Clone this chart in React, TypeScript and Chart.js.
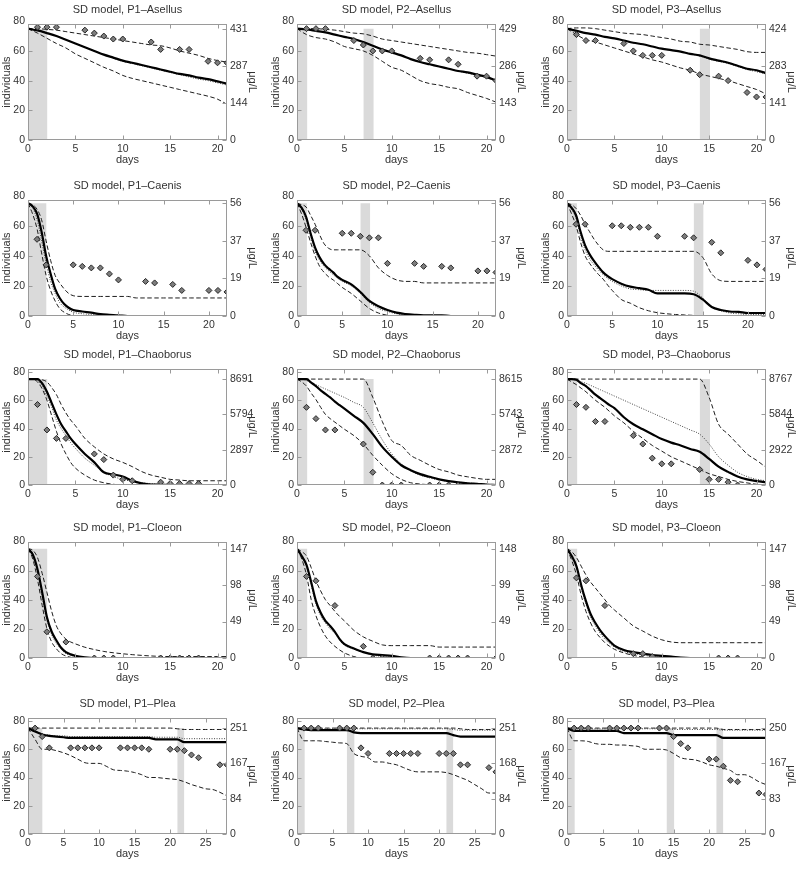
import { useEffect, useRef } from 'react';
import { Chart, registerables } from 'chart.js';

Chart.register(...registerables);

// ---------------- time grids (days) ----------------
const DAYS_21 = [0, 1, 2, 3, 4, 5, 6, 7, 8, 9, 10, 11, 12, 13, 14, 15, 16, 17, 18, 19, 20, 21];
const DAYS_FINE_21 = [0, 0.5, 1, 1.5, 2, 2.5, 3, 3.5, 4, 4.5, 5, 6, 7, 8, 9, 10, 11, 12, 13, 14, 15, 16, 17, 18, 19, 20, 21];
const DAYS_FINE_22 = [0, 0.5, 1, 1.5, 2, 2.5, 3, 3.5, 4, 4.5, 5, 6, 7, 8, 9, 10, 11, 12, 13, 14, 15, 16, 17, 18, 19, 20, 21, 22];
const DAYS_28 = [0, 1, 2, 3, 4, 5, 6, 7, 8, 9, 10, 11, 12, 13, 14, 15, 16, 17, 18, 19, 20, 21, 22, 23, 24, 25, 26, 27, 28];

// observation days
const OBS_DAYS_ASELLUS = [1, 2, 3, 6, 7, 8, 9, 10, 13, 14, 16, 17, 19, 20, 21];
const OBS_DAYS_CAENIS = [1, 2, 5, 6, 7, 8, 9, 10, 13, 14, 16, 17, 20, 21, 22];
const OBS_DAYS_PLEA = [1, 2, 3, 6, 7, 8, 9, 10, 13, 14, 15, 16, 17, 20, 21, 22, 23, 24, 27, 28];

// exposure pulses [start, end] (days)
const PULSES_P1 = [[0, 2.05]];
const PULSES_P2 = [[0, 1.1], [7, 8.1]];
const PULSES_P3 = [[0, 1.1], [14, 15.1]];
const PULSES_SINGLE = [[0, 1.1]];
const PULSES_P1_PLEA = [[0, 2.05], [21, 22]];
const PULSES_P2_PLEA = [[0, 1.1], [7, 8.1], [21, 22]];
const PULSES_P3_PLEA = [[0, 1.1], [14, 15.1], [21, 22]];
const PULSE_LEVEL = 75; // peak concentration drawn at this height

// tick values
const X_TICKS = [0, 5, 10, 15, 20, 25];
const Y_TICKS = [0, 20, 40, 60, 80];
const CONC_TICK_POS = [0, 25, 50, 75];

// ---------------- Asellus ----------------
const ASELLUS_P1_MEDIAN = [75, 73.8, 72, 70, 67.5, 65, 62.5, 60, 57.5, 55.5, 53.5, 52, 50.5, 49, 47.5, 46, 44.5, 43.5, 42, 41, 39.5, 38];
const ASELLUS_P1_DOTTED = [75, 73.8, 72, 70, 67.5, 65, 62.5, 60, 57.5, 55, 53, 51.5, 50, 48.5, 47, 45.5, 44, 42.5, 41, 40, 38.5, 37];
const ASELLUS_P1_UPPER = [75, 75, 74.5, 74, 73, 72, 71, 70, 69, 68, 67, 66, 65, 64, 63.5, 62, 60, 58.5, 57, 55, 53.5, 52.5];
const ASELLUS_P1_LOWER = [75, 72, 68.5, 65, 62, 58, 55, 52, 49, 46.5, 43.5, 41.5, 40, 38.5, 37, 35.5, 34, 32.5, 31, 29.5, 27.5, 24];
const ASELLUS_P1_OBS = [76, 76, 76, 74, 72, 70, 68, 68, 66, 61, 61, 61, 53, 52, 52];
const ASELLUS_P1_CONC = ['0', '144', '287', '431'];

const ASELLUS_P2_MEDIAN = [75, 74.5, 73.5, 72.5, 71, 69.5, 68, 66, 63.5, 61, 59, 57, 54.5, 52.5, 51, 49.5, 48, 46.5, 45.5, 44, 42.5, 40];
const ASELLUS_P2_DOTTED = [75, 74.5, 73.5, 72.5, 71, 69.5, 68, 66, 63.5, 61, 59, 57, 54.5, 52.5, 51, 49.5, 48, 46.5, 45, 43.5, 42, 40];
const ASELLUS_P2_UPPER = [75, 75, 75, 74.5, 74, 73, 72, 71.5, 70, 68, 67, 66, 65, 64, 63, 62, 61, 60, 59, 58.5, 57.5, 56.5];
const ASELLUS_P2_LOWER = [75, 71, 69, 68, 66, 63, 61.5, 60, 57, 53, 49, 47, 43.5, 40, 38, 37, 35.5, 34.5, 32, 30, 28, 25.5];
const ASELLUS_P2_OBS = [75, 75, 75, 67, 64, 60, 60, 60, 55, 54, 54, 51, 43, 43, 40];
const ASELLUS_P2_CONC = ['0', '143', '286', '429'];

const ASELLUS_P3_MEDIAN = [75, 73.5, 72, 71, 69.5, 68.5, 67, 65.5, 64.5, 63, 61.5, 60.5, 59.5, 58, 57, 55, 53.5, 52, 50, 48, 47, 45];
const ASELLUS_P3_DOTTED = [75, 73.5, 72, 71, 69.5, 68.5, 67, 65.5, 64.5, 63, 61.5, 60.5, 59.5, 58, 56.5, 54.5, 53, 51.5, 49.5, 47.5, 46, 44.5];
const ASELLUS_P3_UPPER = [75, 75.5, 75.5, 75, 74, 73, 72, 71.5, 71, 70, 69, 68, 66.5, 66, 64.5, 64, 63, 62, 61, 59.5, 59, 59];
const ASELLUS_P3_LOWER = [75, 71, 67.5, 66, 64, 62, 60, 58, 56, 54, 52.5, 50.5, 48.5, 47, 44.5, 43, 41.5, 40, 38, 36, 34, 31];
const ASELLUS_P3_OBS = [71, 67, 67, 65, 60, 57, 57, 57, 47, 44, 43, 40, 32, 29, 29];
const ASELLUS_P3_CONC = ['0', '141', '283', '424'];

// ---------------- Caenis ----------------
const CAENIS_P1_MEDIAN = [75, 73, 68, 56, 40, 28, 18, 12, 8, 5.5, 4, 3, 2.2, 1.2, 0.8, 0.5, 0, 0, 0, 0, 0, 0, 0, 0, 0, 0, 0, 0];
const CAENIS_P1_DOTTED = [75, 72, 64, 50, 35, 23, 15, 9, 6, 4, 2.5, 1.5, 1, 0.5, 0.2, 0, 0, 0, 0, 0, 0, 0, 0, 0, 0, 0, 0, 0];
const CAENIS_P1_UPPER = [75, 74, 71, 64, 50, 37, 27, 22, 18, 15, 13.5, 13, 13, 13, 13, 13, 13, 12, 12, 12, 12, 12, 12, 12, 12, 12, 12, 12];
const CAENIS_P1_LOWER = [75, 68, 58, 42, 27, 17, 10, 5, 2.5, 1, 0.3, 0, 0, 0, 0, 0, 0, 0, 0, 0, 0, 0, 0, 0, 0, 0, 0, 0];
const CAENIS_P1_OBS = [51, 34, 34, 33, 32, 32, 28, 24, 23, 22, 21, 17, 17, 17, 16];

const CAENIS_P2_MEDIAN = [75, 72, 66, 55, 45.5, 39, 34.5, 31.5, 29, 26, 24, 21, 16, 10, 6.5, 4, 2.2, 1.3, 0.8, 0.5, 0.5, 0.5, 0, 0, 0, 0, 0, 0];
const CAENIS_P2_DOTTED = [75, 71, 64, 53, 43, 37, 33, 30, 27.5, 25, 23, 20, 15, 9, 5, 3, 1.5, 1, 0.5, 0, 0, 0, 0, 0, 0, 0, 0, 0];
const CAENIS_P2_UPPER = [75, 74, 72.5, 67, 61, 54, 48, 45, 44, 44, 44, 44, 44, 40, 32, 27, 24, 23, 23, 22, 22, 22, 22, 22, 22, 22, 22, 22];
const CAENIS_P2_LOWER = [75, 68, 59, 49, 40, 33, 29, 26, 24, 21.5, 19, 15, 10, 5, 2, 0.5, 0, 0, 0, 0, 0, 0, 0, 0, 0, 0, 0, 0];
const CAENIS_P2_OBS = [57, 57, 55, 55, 53, 52, 52, 35, 35, 33, 33, 32, 30, 30, 29];

const CAENIS_P3_MEDIAN = [75, 72, 67, 56, 47, 41, 36.5, 32.5, 29, 26.5, 24.5, 21.5, 19.5, 18.5, 17.5, 15, 15, 15, 15, 14.5, 11, 6, 4, 3, 2.7, 2, 2, 2];
const CAENIS_P3_DOTTED = [75, 71, 65, 53, 44, 38, 34, 30.5, 27.5, 25, 23, 20, 18, 17.5, 17, 17, 17, 17, 17, 16.5, 12, 6, 3.5, 2, 1.5, 1, 1, 1];
const CAENIS_P3_UPPER = [75, 74, 71.5, 67, 61, 56, 51, 47, 44, 43, 43, 43, 43, 43, 43, 43, 43, 43, 43, 43, 39, 28, 23.5, 23, 23, 23, 23, 23];
const CAENIS_P3_LOWER = [75, 68, 60, 49, 40, 35, 31, 27.5, 24.5, 20.5, 17, 11, 8.5, 5.5, 3.5, 2.2, 1.5, 1, 0.7, 0.4, 0, 0, 0, 0, 0, 0, 0, 0];
const CAENIS_P3_OBS = [61, 61, 60, 60, 59, 59, 59, 53, 53, 52, 49, 42, 37, 34, 31];
const CAENIS_CONC = ['0', '19', '37', '56'];

// ---------------- Chaoborus ----------------
const CHAO_P1_MEDIAN = [75, 75, 75, 72, 66, 58, 50, 43, 38, 33, 29, 22, 16, 9, 7.5, 6, 3, 1.2, 0.3, 0.2, 0, 0, 0, 0, 0, 0, 0];
const CHAO_P1_DOTTED = [75, 75, 74, 70, 63, 55, 46, 40, 35, 30, 26, 19, 14, 9, 6, 4, 2.5, 1.5, 1, 0.5, 0.2, 0, 0, 0, 0, 0, 0];
const CHAO_P1_UPPER = [75, 75, 75, 74.5, 73, 69, 64, 57, 51, 46, 42, 33, 27, 22, 18.5, 16, 13, 9.5, 7, 5.5, 4, 3.5, 3, 3, 3, 3, 3];
const CHAO_P1_LOWER = [75, 75, 73, 68, 60, 49, 38, 29, 22, 16, 12, 7, 3.5, 1.6, 0.5, 0, 0, 0, 0, 0, 0, 0, 0, 0, 0, 0, 0];
const CHAO_P1_OBS_DAYS = [1, 2, 3, 4, 7, 8, 9, 10, 11, 14, 15, 16, 17, 18];
const CHAO_P1_OBS = [57, 39, 33, 33, 22, 18, 7, 4, 3, 2, 1, 1, 1, 1];
const CHAO_P1_CONC = ['0', '2897', '5794', '8691'];

const CHAO_P2_MEDIAN = [75, 75, 75, 72.5, 70, 67, 64.5, 62, 59, 56.5, 54, 49, 44, 36, 27, 20, 14, 10.5, 7.7, 5.8, 4, 2.8, 1.9, 1.2, 0.8, 0.3, 0];
const CHAO_P2_DOTTED = [75, 75, 74, 72.5, 71, 69.5, 68, 66.5, 65, 63.5, 62, 58.5, 55, 44, 32, 22, 15, 10, 7, 5, 3.5, 2.5, 2, 1.5, 1, 0.5, 0.3];
const CHAO_P2_UPPER = [75, 75, 75, 75, 75, 75, 75, 75, 75, 75, 75, 75, 75, 62, 45, 31.5, 28, 21, 17.5, 14, 11, 9.3, 7, 5.8, 4.7, 4, 4];
const CHAO_P2_LOWER = [75, 73, 70, 65, 60.5, 55, 50, 47, 44.5, 42, 39.5, 35, 29, 21, 14, 8, 4, 1.6, 0.7, 0.2, 0, 0, 0, 0, 0, 0, 0];
const CHAO_P2_OBS_DAYS = [1, 2, 3, 4, 7, 8, 9, 10, 11, 14, 15, 16, 17];
const CHAO_P2_OBS = [55, 47, 39, 39, 29, 9, 0, 0, 0, 0, 0, 0, 0];
const CHAO_P2_CONC = ['0', '2872', '5743', '8615'];

const CHAO_P3_MEDIAN = [75, 75, 74.5, 72, 70, 67, 64, 61.5, 59, 56.5, 54.5, 48, 43, 39.5, 36, 32.5, 30, 28, 25.5, 23.5, 18.5, 13, 9.3, 6, 4, 2.8, 2];
const CHAO_P3_DOTTED = [75, 75, 74, 73, 72, 70.5, 69, 67.5, 66, 64.5, 63, 60, 57, 54, 51, 48, 45, 42, 39, 36, 29, 20, 14, 9, 6, 4, 3];
const CHAO_P3_UPPER = [75, 75, 75, 75, 75, 75, 75, 75, 75, 75, 75, 75, 75, 75, 75, 75, 75, 75, 75, 75, 62, 43, 36, 29, 22, 17.5, 12.5];
const CHAO_P3_LOWER = [75, 73, 71, 68.5, 66, 63, 60, 57.5, 55, 52, 49, 44, 38, 33, 28, 24, 20, 17, 14, 11, 8, 6, 4, 2.5, 1.5, 0.5, 0];
const CHAO_P3_OBS_DAYS = [1, 2, 3, 4, 7, 8, 9, 10, 11, 14, 15, 16, 17, 18];
const CHAO_P3_OBS = [57, 55, 45, 45, 35, 29, 19, 15, 15, 11, 4, 4, 2, 0];
const CHAO_P3_CONC = ['0', '2922', '5844', '8767'];

// ---------------- Cloeon ----------------
const CLOEON_P1_MEDIAN = [75, 71, 61, 45, 28, 18, 12, 7, 4, 2.5, 1.5, 0.5, 0, 0, 0, 0, 0, 0, 0, 0, 0, 0, 0, 0, 0, 0, 0];
const CLOEON_P1_DOTTED = [75, 70, 59, 42, 26, 16, 10, 6, 3, 2, 1, 0.3, 0, 0, 0, 0, 0, 0, 0, 0, 0, 0, 0, 0, 0, 0, 0];
const CLOEON_P1_UPPER = [75, 74, 69, 58, 45, 32, 22, 16.5, 13, 11, 9.7, 7.4, 5.8, 4.5, 3.6, 2.9, 2.3, 1.8, 1.4, 1.1, 1, 1, 1, 1, 1, 1, 1];
const CLOEON_P1_LOWER = [75, 68, 54, 36, 20, 11, 6.3, 3, 1.4, 0.5, 0, 0, 0, 0, 0, 0, 0, 0, 0, 0, 0, 0, 0, 0, 0, 0, 0];
const CLOEON_P1_OBS_DAYS = [1, 2, 4, 7, 8, 9, 14, 15, 16, 17, 18, 21];
const CLOEON_P1_OBS = [56, 18, 11, 0, 0, 0, 0, 0, 0, 0, 0, 0];
const CLOEON_P1_CONC = ['0', '49', '98', '147'];

const CLOEON_P2_MEDIAN = [75, 70, 64, 52, 39, 31, 25.5, 22, 18, 13, 9.5, 6.5, 4, 2.5, 2, 1.5, 0.5, 0, 0, 0, 0, 0, 0, 0, 0, 0, 0];
const CLOEON_P2_DOTTED = [75, 69, 63, 50, 37, 29, 24, 20, 17, 12.5, 9, 6, 4, 2, 1, 0.5, 0, 0, 0, 0, 0, 0, 0, 0, 0, 0, 0];
const CLOEON_P2_UPPER = [75, 73, 70, 62, 53, 46, 40, 36, 32, 28.5, 25.5, 19, 14.5, 11.5, 9, 8.5, 8.5, 8.5, 8.5, 8.5, 7.5, 7.5, 7.5, 7.5, 7.5, 7.5, 7.5];
const CLOEON_P2_LOWER = [75, 68, 57, 40, 29, 21, 15, 11, 8, 5.5, 3.5, 1, 0, 0, 0, 0, 0, 0, 0, 0, 0, 0, 0, 0, 0, 0, 0];
const CLOEON_P2_OBS_DAYS = [1, 2, 4, 7, 8, 9, 14, 15, 16, 17, 18, 21];
const CLOEON_P2_OBS = [56, 53, 36, 8, 0, 0, 0, 0, 0, 0, 0, 0];
const CLOEON_P2_CONC = ['0', '49', '99', '148'];

const CLOEON_P3_MEDIAN = [75, 70, 63, 50, 39, 30, 24, 19, 15, 11.5, 8.5, 5.5, 4, 3, 2, 1.5, 1, 0.3, 0, 0, 0, 0, 0, 0, 0, 0, 0];
const CLOEON_P3_DOTTED = [75, 69, 62, 48, 37, 28, 22, 17, 13, 10, 7.5, 4.5, 3, 2, 1, 0.5, 0, 0, 0, 0, 0, 0, 0, 0, 0, 0, 0];
const CLOEON_P3_UPPER = [75, 73, 69, 63, 57, 52, 48, 44, 40, 36, 33, 27.5, 22, 18.5, 15, 12.5, 11, 10.5, 10.5, 10.5, 10.5, 10.5, 10.5, 10.5, 10.5, 10.5, 10.5];
const CLOEON_P3_LOWER = [75, 67, 57, 43, 32, 24, 18, 14, 10.5, 8, 6, 3.5, 1.8, 0.7, 0, 0, 0, 0, 0, 0, 0, 0, 0, 0, 0, 0, 0];
const CLOEON_P3_OBS_DAYS = [1, 2, 4, 7, 8, 9, 16, 17, 18];
const CLOEON_P3_OBS = [55, 53, 36, 3, 3, 1, 0, 0, 0];
const CLOEON_P3_CONC = ['0', '49', '98', '147'];

// ---------------- Plea ----------------
const PLEA_P1_MEDIAN = [75, 72.5, 70.5, 69.5, 69, 68.5, 68, 68, 68, 68, 68, 68, 68, 68, 68, 68, 68, 68, 67, 67, 67, 67, 65, 65, 65, 65, 65, 65, 65];
const PLEA_P1_DOTTED = [75, 73, 71, 70, 69.5, 69.5, 69, 69, 69, 69, 69, 69, 69, 69, 69, 69, 69, 69, 68.5, 68.5, 68.5, 68.5, 67.5, 67.5, 67.5, 67.5, 67.5, 67.5, 67.5];
const PLEA_P1_UPPER = [75, 75, 75, 75, 75, 75, 75, 75, 75, 75, 75, 75, 75, 75, 75, 75, 75, 75, 75, 75, 75, 74.5, 74, 74, 74, 74, 74, 74, 74];
const PLEA_P1_LOWER = [75, 67, 60, 60, 59, 57.5, 55.5, 53, 50.5, 50, 50, 48, 45.5, 45, 44.5, 43.5, 42, 40, 40, 39.5, 39, 38.5, 37, 35, 33.5, 32, 31.5, 29.5, 27];
const PLEA_P1_OBS = [75, 69, 61, 61, 61, 61, 61, 61, 61, 61, 61, 61, 60, 60, 60, 59, 56, 54, 49, 49];
const PLEA_P1_CONC = ['0', '84', '167', '251'];

const PLEA_P2_MEDIAN = [75, 74, 73.5, 73.5, 73.5, 73.5, 73.5, 73.5, 72, 71.5, 71.5, 71.5, 71.5, 71.5, 71.5, 71.5, 71.5, 71.5, 71.5, 71.5, 71.5, 71.5, 70, 69, 69, 69, 69, 69, 69];
const PLEA_P2_DOTTED = [75, 74.5, 74.5, 74.5, 74.5, 74.5, 74.5, 74.5, 74.5, 74.5, 74.5, 74.5, 74.5, 74.5, 74.5, 74.5, 74.5, 74.5, 74.5, 74.5, 74.5, 74.5, 74, 73.5, 73.5, 73.5, 73.5, 73.5, 73.5];
const PLEA_P2_UPPER = [75, 75, 75, 75, 75, 75, 75, 75, 75, 75, 75, 75, 75, 75, 75, 75, 75, 75, 75, 75, 75, 75, 75, 74.5, 74, 74, 74, 74, 74];
const PLEA_P2_LOWER = [75, 66, 66, 66, 65.5, 65, 64.5, 64, 57, 55, 54, 51, 51, 50, 49, 47, 45, 44, 44, 44, 44, 43.5, 42, 40, 38, 35, 32, 29, 29];
const PLEA_P2_OBS = [75, 75, 75, 75, 75, 75, 61, 57, 57, 57, 57, 57, 57, 57, 57, 57, 49, 49, 47, 44];
const PLEA_P2_CONC = ['0', '84', '168', '251'];

const PLEA_P3_MEDIAN = [75, 73, 73, 73, 73, 73, 73, 73, 71.5, 71.5, 71.5, 71.5, 71.5, 71.5, 71.5, 70, 70, 70, 70, 70, 70, 70, 68, 68, 68, 68, 68, 68, 68];
const PLEA_P3_DOTTED = [75, 74.5, 74.5, 74.5, 74.5, 74.5, 74.5, 74.5, 74.5, 74.5, 74.5, 74.5, 74.5, 74.5, 74.5, 74, 74, 74, 74, 74, 74, 74, 73.5, 73.5, 73.5, 73.5, 73.5, 73.5, 73.5];
const PLEA_P3_UPPER = [75, 75, 75, 75, 75, 75, 75, 75, 75, 75, 75, 75, 75, 75, 75, 75, 75, 75, 75, 75, 75, 75, 74, 74, 74, 74, 74, 74, 74];
const PLEA_P3_LOWER = [75, 66, 66, 65.5, 64, 63.5, 63.5, 63, 63, 62.5, 62, 60, 60, 60, 59.5, 57, 54, 53, 52.5, 51, 49, 48, 46.5, 45, 42, 42, 40, 37, 35];
const PLEA_P3_OBS = [75, 75, 75, 75, 75, 75, 75, 75, 75, 75, 69, 64, 61, 53, 53, 48, 38, 37, 29, 28];
const PLEA_P3_CONC = ['0', '83', '167', '250'];

// ---------------- panel table ----------------
type Panel = {
  title: string;
  xMax: number;
  yMax: number;
  t: number[];
  median: number[];
  dotted: number[];
  upper: number[];
  lower: number[];
  obsDays: number[];
  obs: number[];
  pulses: number[][];
  conc: string[];
};

const PANELS: Panel[] = [
  { title: 'SD model, P1–Asellus', xMax: 21, yMax: 78, t: DAYS_21, median: ASELLUS_P1_MEDIAN, dotted: ASELLUS_P1_DOTTED, upper: ASELLUS_P1_UPPER, lower: ASELLUS_P1_LOWER, obsDays: OBS_DAYS_ASELLUS, obs: ASELLUS_P1_OBS, pulses: PULSES_P1, conc: ASELLUS_P1_CONC },
  { title: 'SD model, P2–Asellus', xMax: 21, yMax: 78, t: DAYS_21, median: ASELLUS_P2_MEDIAN, dotted: ASELLUS_P2_DOTTED, upper: ASELLUS_P2_UPPER, lower: ASELLUS_P2_LOWER, obsDays: OBS_DAYS_ASELLUS, obs: ASELLUS_P2_OBS, pulses: PULSES_P2, conc: ASELLUS_P2_CONC },
  { title: 'SD model, P3–Asellus', xMax: 21, yMax: 78, t: DAYS_21, median: ASELLUS_P3_MEDIAN, dotted: ASELLUS_P3_DOTTED, upper: ASELLUS_P3_UPPER, lower: ASELLUS_P3_LOWER, obsDays: OBS_DAYS_ASELLUS, obs: ASELLUS_P3_OBS, pulses: PULSES_P3, conc: ASELLUS_P3_CONC },
  { title: 'SD model, P1–Caenis', xMax: 22, yMax: 77, t: DAYS_FINE_22, median: CAENIS_P1_MEDIAN, dotted: CAENIS_P1_DOTTED, upper: CAENIS_P1_UPPER, lower: CAENIS_P1_LOWER, obsDays: OBS_DAYS_CAENIS, obs: CAENIS_P1_OBS, pulses: PULSES_P1, conc: CAENIS_CONC },
  { title: 'SD model, P2–Caenis', xMax: 22, yMax: 77, t: DAYS_FINE_22, median: CAENIS_P2_MEDIAN, dotted: CAENIS_P2_DOTTED, upper: CAENIS_P2_UPPER, lower: CAENIS_P2_LOWER, obsDays: OBS_DAYS_CAENIS, obs: CAENIS_P2_OBS, pulses: PULSES_P2, conc: CAENIS_CONC },
  { title: 'SD model, P3–Caenis', xMax: 22, yMax: 77, t: DAYS_FINE_22, median: CAENIS_P3_MEDIAN, dotted: CAENIS_P3_DOTTED, upper: CAENIS_P3_UPPER, lower: CAENIS_P3_LOWER, obsDays: OBS_DAYS_CAENIS, obs: CAENIS_P3_OBS, pulses: PULSES_P3, conc: CAENIS_CONC },
  { title: 'SD model, P1–Chaoborus', xMax: 21, yMax: 82, t: DAYS_FINE_21, median: CHAO_P1_MEDIAN, dotted: CHAO_P1_DOTTED, upper: CHAO_P1_UPPER, lower: CHAO_P1_LOWER, obsDays: CHAO_P1_OBS_DAYS, obs: CHAO_P1_OBS, pulses: PULSES_P1, conc: CHAO_P1_CONC },
  { title: 'SD model, P2–Chaoborus', xMax: 21, yMax: 82, t: DAYS_FINE_21, median: CHAO_P2_MEDIAN, dotted: CHAO_P2_DOTTED, upper: CHAO_P2_UPPER, lower: CHAO_P2_LOWER, obsDays: CHAO_P2_OBS_DAYS, obs: CHAO_P2_OBS, pulses: PULSES_P2, conc: CHAO_P2_CONC },
  { title: 'SD model, P3–Chaoborus', xMax: 21, yMax: 82, t: DAYS_FINE_21, median: CHAO_P3_MEDIAN, dotted: CHAO_P3_DOTTED, upper: CHAO_P3_UPPER, lower: CHAO_P3_LOWER, obsDays: CHAO_P3_OBS_DAYS, obs: CHAO_P3_OBS, pulses: PULSES_P3, conc: CHAO_P3_CONC },
  { title: 'SD model, P1–Cloeon', xMax: 21, yMax: 79.5, t: DAYS_FINE_21, median: CLOEON_P1_MEDIAN, dotted: CLOEON_P1_DOTTED, upper: CLOEON_P1_UPPER, lower: CLOEON_P1_LOWER, obsDays: CLOEON_P1_OBS_DAYS, obs: CLOEON_P1_OBS, pulses: PULSES_P1, conc: CLOEON_P1_CONC },
  { title: 'SD model, P2–Cloeon', xMax: 21, yMax: 79.5, t: DAYS_FINE_21, median: CLOEON_P2_MEDIAN, dotted: CLOEON_P2_DOTTED, upper: CLOEON_P2_UPPER, lower: CLOEON_P2_LOWER, obsDays: CLOEON_P2_OBS_DAYS, obs: CLOEON_P2_OBS, pulses: PULSES_SINGLE, conc: CLOEON_P2_CONC },
  { title: 'SD model, P3–Cloeon', xMax: 21, yMax: 79.5, t: DAYS_FINE_21, median: CLOEON_P3_MEDIAN, dotted: CLOEON_P3_DOTTED, upper: CLOEON_P3_UPPER, lower: CLOEON_P3_LOWER, obsDays: CLOEON_P3_OBS_DAYS, obs: CLOEON_P3_OBS, pulses: PULSES_SINGLE, conc: CLOEON_P3_CONC },
  { title: 'SD model, P1–Plea', xMax: 28, yMax: 82, t: DAYS_28, median: PLEA_P1_MEDIAN, dotted: PLEA_P1_DOTTED, upper: PLEA_P1_UPPER, lower: PLEA_P1_LOWER, obsDays: OBS_DAYS_PLEA, obs: PLEA_P1_OBS, pulses: PULSES_P1_PLEA, conc: PLEA_P1_CONC },
  { title: 'SD model, P2–Plea', xMax: 28, yMax: 82, t: DAYS_28, median: PLEA_P2_MEDIAN, dotted: PLEA_P2_DOTTED, upper: PLEA_P2_UPPER, lower: PLEA_P2_LOWER, obsDays: OBS_DAYS_PLEA, obs: PLEA_P2_OBS, pulses: PULSES_P2_PLEA, conc: PLEA_P2_CONC },
  { title: 'SD model, P3–Plea', xMax: 28, yMax: 82, t: DAYS_28, median: PLEA_P3_MEDIAN, dotted: PLEA_P3_DOTTED, upper: PLEA_P3_UPPER, lower: PLEA_P3_LOWER, obsDays: OBS_DAYS_PLEA, obs: PLEA_P3_OBS, pulses: PULSES_P3_PLEA, conc: PLEA_P3_CONC },
];

// ---------------- layout / style ----------------
const FONT = "'Liberation Sans', Arial, Helvetica, sans-serif";
const TEXT = '#333333';
const FRAME = '#9a9a9a';
const CANVAS_W = 261;
const CANVAS_H = 175;
const COL_LEFT = [0, 269, 539];
const ROW_TOP = [0, 176, 345, 518, 694];

const framePlugin = {
  id: 'mmaFrame',
  afterDraw(chart: any) {
    const { ctx, chartArea: a } = chart;
    const xs = chart.scales.x;
    const ys = chart.scales.y;
    const ys2 = chart.scales.y2;
    const L = Math.round(a.left) + 0.5;
    const R = Math.round(a.right) - 0.5;
    const T = Math.round(a.top) + 0.5;
    const B = Math.round(a.bottom) - 0.5;
    ctx.save();
    ctx.strokeStyle = FRAME;
    ctx.lineWidth = 1;
    ctx.strokeRect(L, T, R - L, B - T);
    ctx.beginPath();
    const len = 4;
    xs.ticks.forEach((tk: any) => {
      if (tk.value > xs.max) return;
      const px = Math.round(xs.getPixelForValue(tk.value)) + 0.5;
      ctx.moveTo(px, B);
      ctx.lineTo(px, B - len);
      ctx.moveTo(px, T);
      ctx.lineTo(px, T + len);
    });
    ys.ticks.forEach((tk: any) => {
      if (tk.value > ys.max) return;
      const py = Math.round(ys.getPixelForValue(tk.value)) + 0.5;
      ctx.moveTo(L, py);
      ctx.lineTo(L + len, py);
    });
    ys2.ticks.forEach((tk: any) => {
      const py = Math.round(ys2.getPixelForValue(tk.value)) + 0.5;
      ctx.moveTo(R, py);
      ctx.lineTo(R - len, py);
    });
    ctx.stroke();
    ctx.restore();
  },
};

function buildConfig(p: Panel): any {
  const toXY = (xs: number[], ys: number[]) => xs.map((x, i) => ({ x, y: ys[i] }));
  const lineBase = { pointRadius: 0, fill: false, cubicInterpolationMode: 'monotone', showLine: true };
  const datasets: any[] = [];
  p.pulses.forEach(([a, b]) => {
    datasets.push({
      data: [{ x: a, y: PULSE_LEVEL }, { x: b, y: PULSE_LEVEL }],
      fill: 'origin',
      backgroundColor: '#dadada',
      borderColor: 'rgba(0,0,0,0)',
      borderWidth: 0,
      pointRadius: 0,
      order: 10,
    });
  });
  datasets.push({ ...lineBase, data: toXY(p.t, p.upper), borderColor: '#1e1e1e', borderWidth: 1, borderDash: [4.5, 2.5], order: 5 });
  datasets.push({ ...lineBase, data: toXY(p.t, p.lower), borderColor: '#1e1e1e', borderWidth: 1, borderDash: [4.5, 2.5], order: 4 });
  datasets.push({ ...lineBase, data: toXY(p.t, p.dotted), borderColor: '#444444', borderWidth: 1, borderDash: [1, 1.5], order: 3 });
  datasets.push({ ...lineBase, data: toXY(p.t, p.median), borderColor: '#000000', borderWidth: 2.2, order: 2 });
  datasets.push({
    data: toXY(p.obsDays, p.obs),
    showLine: false,
    pointStyle: 'rectRot',
    pointRadius: 3,
    pointBackgroundColor: '#7d7d7d',
    pointBorderColor: '#262626',
    pointBorderWidth: 1,
    order: 0,
  });

  const tickFont = { family: FONT, size: 10.5 };
  const titleFont = { family: FONT, size: 11 };

  return {
    type: 'line',
    data: { datasets },
    plugins: [framePlugin],
    options: {
      animation: false,
      responsive: false,
      devicePixelRatio: 1,
      events: [],
      layout: { padding: 0 },
      plugins: {
        legend: { display: false },
        tooltip: { enabled: false },
        title: {
          display: true,
          text: p.title,
          color: TEXT,
          font: { family: FONT, size: 11, weight: 'normal' },
          padding: { top: 3.5, bottom: 7.5 },
          fullSize: false,
        },
      },
      scales: {
        x: {
          type: 'linear',
          min: 0,
          max: p.xMax,
          afterBuildTicks: (s: any) => {
            s.ticks = X_TICKS.filter((v) => v <= p.xMax).map((v) => ({ value: v }));
          },
          afterFit: (s: any) => {
            s.height = 35;
          },
          grid: { display: false, drawTicks: false },
          border: { display: false },
          ticks: { font: tickFont, color: TEXT, padding: 3, autoSkip: false, maxRotation: 0 },
          title: { display: true, text: 'days', color: TEXT, font: titleFont, padding: { top: 0, bottom: 8 } },
        },
        y: {
          type: 'linear',
          position: 'left',
          min: 0,
          max: p.yMax,
          afterBuildTicks: (s: any) => {
            s.ticks = Y_TICKS.map((v) => ({ value: v }));
          },
          afterFit: (s: any) => {
            s.width = 28;
          },
          grid: { display: false, drawTicks: false },
          border: { display: false },
          ticks: { font: tickFont, color: TEXT, padding: 3, autoSkip: false },
          title: { display: true, text: 'individuals', color: TEXT, font: titleFont, padding: { top: 0, bottom: 0 } },
        },
        y2: {
          type: 'linear',
          position: 'right',
          min: 0,
          max: p.yMax,
          afterBuildTicks: (s: any) => {
            s.ticks = CONC_TICK_POS.map((v) => ({ value: v }));
          },
          afterFit: (s: any) => {
            s.width = 34;
          },
          grid: { display: false, drawTicks: false },
          border: { display: false },
          ticks: {
            font: tickFont,
            color: TEXT,
            padding: 3,
            autoSkip: false,
            callback: (_v: any, i: number) => p.conc[i],
          },
          title: { display: true, text: 'μg/L', color: TEXT, font: titleFont, padding: { top: 2, bottom: 0 } },
        },
      },
    },
  };
}

function PanelChart({ panel, left, top }: { panel: Panel; left: number; top: number }) {
  const ref = useRef<HTMLCanvasElement | null>(null);
  useEffect(() => {
    if (!ref.current) return;
    const chart = new Chart(ref.current, buildConfig(panel));
    return () => chart.destroy();
  }, [panel]);
  return (
    <canvas
      ref={ref}
      width={CANVAS_W}
      height={CANVAS_H}
      style={{ position: 'absolute', left, top, width: CANVAS_W, height: CANVAS_H, display: 'block' }}
    />
  );
}

export default function App() {
  return (
    <div
      style={{
        position: 'absolute',
        left: 0,
        top: 0,
        width: 800,
        height: 869,
        background: '#ffffff',
        overflow: 'hidden',
      }}
    >
      {PANELS.map((p, i) => (
        <PanelChart key={p.title} panel={p} left={COL_LEFT[i % 3]} top={ROW_TOP[Math.floor(i / 3)]} />
      ))}
    </div>
  );
}
